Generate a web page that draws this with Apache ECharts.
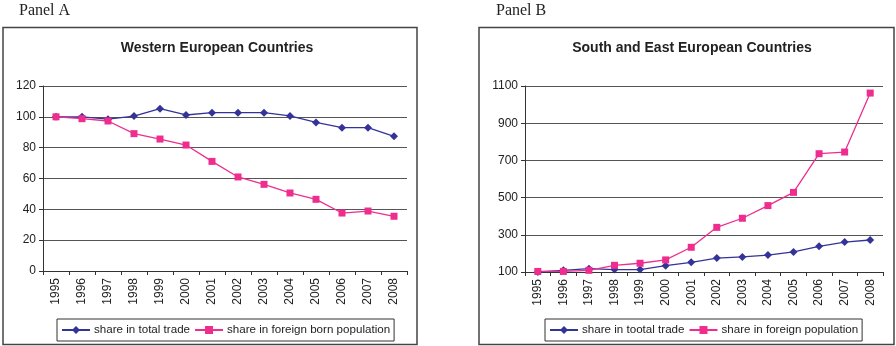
<!DOCTYPE html>
<html><head><meta charset="utf-8">
<script src="https://cdn.jsdelivr.net/npm/echarts@6/dist/echarts.min.js"></script>
<style>html,body{margin:0;padding:0;background:#fff}#c{width:896px;height:346px}</style>
</head><body><div id="c"></div>
<script>
const years = ['1995','1996','1997','1998','1999','2000','2001','2002','2003','2004','2005','2006','2007','2008'];
const westTrade = [100, 100, 98.5, 100.5, 105.3, 101.2, 102.7, 102.7, 102.7, 100.6, 96.4, 93, 93, 87.4];
const westForeign = [100, 98.8, 97.3, 89.1, 85.6, 81.7, 71.1, 61, 56.2, 50.6, 46.5, 37.6, 38.9, 35.5];
const seTrade = [100, 109, 118, 113, 113, 134, 152, 175, 181, 191, 208, 238, 261, 272];
const seForeign = [103, 103, 109, 136, 147, 165, 233, 340, 389, 457, 528, 736, 745, 1062];
const yTicksA = [0, 20, 40, 60, 80, 100, 120];
const yTicksB = [100, 300, 500, 700, 900, 1100];

const BLUE = '#333399', PINK = '#ee2d8f';
const font = 'Arial, "Liberation Sans", sans-serif';
const chart = echarts.init(document.getElementById('c'), null, {renderer: 'canvas'});

function xAxis(idx) {
  return {
    type: 'category', gridIndex: idx, data: years, boundaryGap: true,
    axisLine: {lineStyle: {color: '#333', width: 1}},
    axisTick: {show: true, length: 4, lineStyle: {color: '#333'}},
    axisLabel: {rotate: 90, fontFamily: font, fontSize: 12, color: '#222', margin: 7, interval: 0}
  };
}
function yAxis(idx, ticks) {
  return {
    type: 'value', gridIndex: idx, min: ticks[0], max: ticks[ticks.length - 1],
    interval: ticks[1] - ticks[0],
    axisLine: {show: true, lineStyle: {color: '#333', width: 1}},
    axisTick: {show: true, length: 4, lineStyle: {color: '#333'}},
    axisLabel: {fontFamily: font, fontSize: 12, color: '#222', margin: 7, formatter: v => String(v)},
    splitLine: {show: true, lineStyle: {color: '#555', width: 1}}
  };
}
function line(name, data, idx, color, symbol) {
  return {
    name: name, type: 'line', xAxisIndex: idx, yAxisIndex: idx, data: data,
    symbol: symbol, symbolSize: symbol === 'diamond' ? 8 : 7, showSymbol: true,
    lineStyle: {color: color, width: 1.3}, itemStyle: {color: color},
    animation: false
  };
}
function legend(data, left) {
  return {
    data: data, left: left, top: 319, orient: 'horizontal', itemGap: 4, itemWidth: 28, itemHeight: 10,
    padding: [5, 4, 5, 4], borderColor: '#333', borderWidth: 1, borderRadius: 0,
    textStyle: {fontFamily: font, fontSize: 11.6, color: '#222', padding: [0, 0, 0, -1]},
    selectedMode: false
  };
}

chart.setOption({
  animation: false,
  title: [
    {text: 'Western European Countries', left: 212, top: 36, textAlign: 'center',
     textStyle: {fontFamily: font, fontSize: 14, fontWeight: 'bold', color: '#222'}},
    {text: 'South and East European Countries', left: 687, top: 36, textAlign: 'center',
     textStyle: {fontFamily: font, fontSize: 14, fontWeight: 'bold', color: '#222'}}
  ],
  grid: [
    {left: 43, top: 86, width: 364, height: 185, containLabel: false},
    {left: 525, top: 86, width: 358, height: 186, containLabel: false}
  ],
  xAxis: [xAxis(0), xAxis(1)],
  yAxis: [yAxis(0, yTicksA), yAxis(1, yTicksB)],
  legend: [
    legend(['share in total trade', 'share in foreign born population'], 57),
    legend(['share in tootal trade', 'share in foreign population'], 545)
  ],
  series: [
    line('share in total trade', westTrade, 0, BLUE, 'diamond'),
    line('share in foreign born population', westForeign, 0, PINK, 'rect'),
    line('share in tootal trade', seTrade, 1, BLUE, 'diamond'),
    line('share in foreign population', seForeign, 1, PINK, 'rect')
  ],
  graphic: [
    {type: 'rect', shape: {x: 3, y: 27.5, width: 414, height: 317}, style: {fill: 'none', stroke: '#444', lineWidth: 1.5}, z: 0},
    {type: 'rect', shape: {x: 479, y: 27.5, width: 415, height: 317}, style: {fill: 'none', stroke: '#444', lineWidth: 1.5}, z: 0},
    {type: 'text', left: 19, top: 3, style: {text: 'Panel A', font: '16px "Liberation Serif", "Times New Roman", serif', fill: '#222'}},
    {type: 'text', left: 496, top: 3, style: {text: 'Panel B', font: '16px "Liberation Serif", "Times New Roman", serif', fill: '#222'}}
  ]
});
</script></body></html>
